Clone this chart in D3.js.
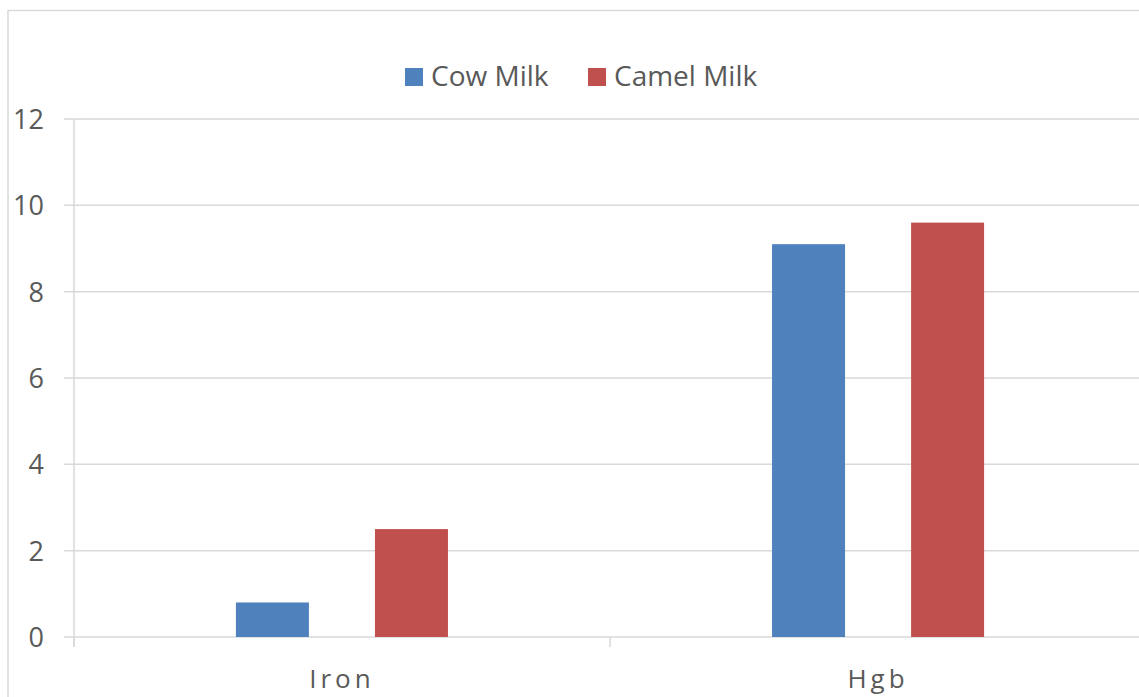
<!DOCTYPE html>
<html>
<head>
<meta charset="utf-8">
<script src="https://cdn.jsdelivr.net/npm/d3@7"></script>
<style>
  body { margin: 0; background: #fff; }
  text { font-family: "Open Sans", "Liberation Sans", sans-serif; fill: #595959; }
</style>
</head>
<body>
<div id="chart"></div>
<script>
// Data
var categories = ["Iron", "Hgb"];
var seriesNames = ["Cow Milk", "Camel Milk"];
var cowMilk = [0.8, 9.1];
var camelMilk = [2.5, 9.6];
var yTicks = [0, 2, 4, 6, 8, 10, 12];
var colors = ["#4f81bd", "#c0504d"];

var svgWidth = 1139;
var svgHeight = 697;

var svg = d3.select("#chart")
  .append("svg")
  .attr("width", svgWidth)
  .attr("height", svgHeight);

// outer frame
svg.append("rect")
  .attr("x", 8)
  .attr("y", 10.5)
  .attr("width", 1200)
  .attr("height", 800)
  .attr("fill", "none")
  .attr("stroke", "#d9d9d9")
  .attr("stroke-width", 1.5);

// plot area edges
var plotLeft = 74, plotRight = 1146, plotTop = 119, plotBottom = 637;

var x0 = d3.scaleBand()
  .domain(categories)
  .range([plotLeft, plotRight])
  .paddingInner(0.6045)
  .paddingOuter(0.302);

var x1 = d3.scaleBand()
  .domain(seriesNames)
  .range([0, x0.bandwidth()])
  .paddingInner(0.475);

var y = d3.scaleLinear()
  .domain([0, 12])
  .range([plotBottom, plotTop]);

// gridlines
svg.append("g")
  .selectAll("line")
  .data(yTicks)
  .enter()
  .append("line")
  .attr("x1", plotLeft - 10)
  .attr("x2", svgWidth)
  .attr("y1", d => y(d))
  .attr("y2", d => y(d))
  .attr("stroke", "#d9d9d9")
  .attr("stroke-width", 1.5);

// y axis line
svg.append("line")
  .attr("x1", plotLeft).attr("x2", plotLeft)
  .attr("y1", plotTop).attr("y2", plotBottom + 10)
  .attr("stroke", "#d9d9d9")
  .attr("stroke-width", 1.5);

// x ticks at category boundaries
var boundaries = [plotLeft, (plotLeft + plotRight) / 2];
svg.append("g")
  .selectAll("line")
  .data(boundaries)
  .enter()
  .append("line")
  .attr("x1", d => d).attr("x2", d => d)
  .attr("y1", plotBottom).attr("y2", plotBottom + 10)
  .attr("stroke", "#d9d9d9")
  .attr("stroke-width", 1.5);

// y tick labels
svg.append("g")
  .selectAll("text")
  .data(yTicks)
  .enter()
  .append("text")
  .attr("x", 44)
  .attr("y", d => y(d) + 10)
  .attr("text-anchor", "end")
  .style("font-size", "27px")
  .text(d => d);

// bars
var rows = categories.map(function(c, i) {
  return { cat: c, values: [cowMilk[i], camelMilk[i]] };
});

var groups = svg.append("g")
  .selectAll("g")
  .data(rows)
  .enter()
  .append("g")
  .attr("transform", d => `translate(${x0(d.cat)},0)`);

groups.selectAll("rect")
  .data(d => d.values.map((v, j) => ({ name: seriesNames[j], value: v, color: colors[j] })))
  .enter()
  .append("rect")
  .attr("x", d => x1(d.name))
  .attr("y", d => y(d.value))
  .attr("width", x1.bandwidth())
  .attr("height", d => y(0) - y(d.value))
  .attr("fill", d => d.color);

// category labels
svg.append("g")
  .selectAll("text")
  .data(categories)
  .enter()
  .append("text")
  .attr("x", d => x0(d) + x0.bandwidth() / 2)
  .attr("y", 688)
  .attr("text-anchor", "middle")
  .style("font-size", "26px")
  .style("letter-spacing", "4px")
  .text(d => d);

// legend
var legendX = [405, 588];
var legend = svg.append("g")
  .selectAll("g")
  .data(seriesNames)
  .enter()
  .append("g")
  .attr("transform", (d, i) => `translate(${legendX[i]},68)`);

legend.append("rect")
  .attr("width", 18)
  .attr("height", 18)
  .attr("fill", (d, i) => colors[i]);

legend.append("text")
  .attr("x", 26)
  .attr("y", 18)
  .style("font-size", "28px")
  .text(d => d);
</script>
</body>
</html>
